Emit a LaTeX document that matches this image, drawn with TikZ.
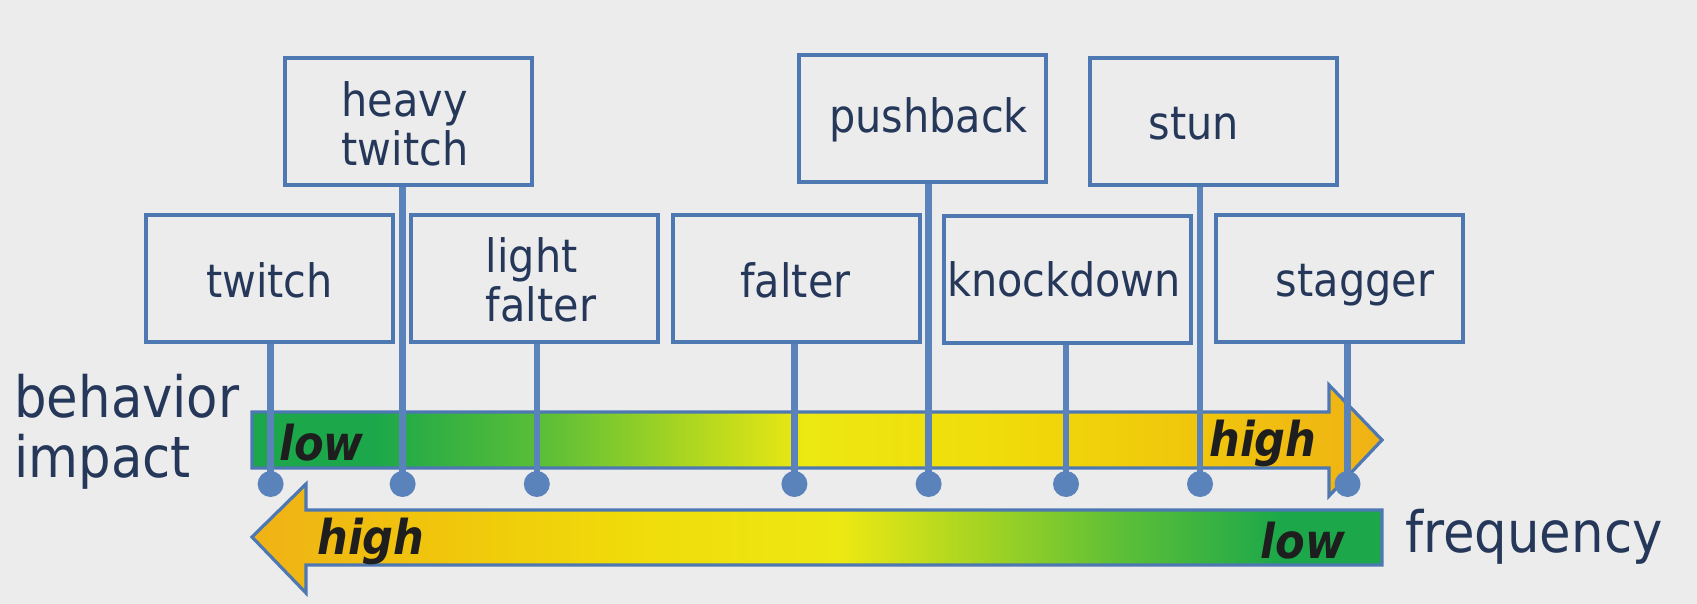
\documentclass[tikz,border=0pt]{standalone}
\usepackage{fontspec}
\setmainfont{DejaVu Sans Condensed}
\definecolor{bg}{HTML}{ECECEC}
\definecolor{boxline}{HTML}{4D78B2}
\definecolor{stemc}{HTML}{5A82BB}
\definecolor{txt}{HTML}{26385A}
\definecolor{g1}{HTML}{1CA84A}
\definecolor{g2}{HTML}{5CBF37}
\definecolor{g3}{HTML}{A8D522}
\definecolor{y1}{HTML}{EDE812}
\definecolor{y2}{HTML}{F0DC0A}
\definecolor{o1}{HTML}{F0C50C}
\definecolor{o2}{HTML}{F0B216}
\definecolor{lbl}{HTML}{1E1E1E}
\pgfdeclarehorizontalshading{impactshade}{100bp}{color(0bp)=(g1); color(25bp)=(g1); color(30.5bp)=(g1); color(38bp)=(g2); color(44bp)=(g3); color(49.5bp)=(y1); color(58bp)=(y2); color(67bp)=(o1); color(75bp)=(o2); color(100bp)=(o2)}
\pgfdeclarehorizontalshading{freqshade}{100bp}{color(0bp)=(o2); color(25bp)=(o2); color(33bp)=(o1); color(42bp)=(y2); color(51bp)=(y1); color(57bp)=(g3); color(63.5bp)=(g2); color(70.5bp)=(g1); color(75bp)=(g1); color(100bp)=(g1)}
\begin{document}
\begin{tikzpicture}[x=0.5pt,y=-0.5pt,
  box/.style={draw=boxline, line width=2pt, minimum width=123.5pt, minimum height=63.5pt, inner sep=0pt},
  btxt/.style={text=txt, font=\fontsize{23}{24.5}\selectfont, align=left, inner sep=0pt},
  stem/.style={draw=stemc, line width=3.2pt},
  dot/.style={circle, fill=stemc, minimum size=13pt, inner sep=0pt},
  lvl/.style={text=lbl, font=\fontsize{24}{24}\selectfont\bfseries\itshape, inner sep=0pt},
  axislabel/.style={text=txt, font=\fontsize{28.5}{30}\selectfont, align=left, inner sep=0pt},
  arrowshape/.style={draw=boxline, line width=1.6pt}]
\fill[bg] (0,0) rectangle (1697,604);
\useasboundingbox (0,0) rectangle (1697,604);
% arrows
\path[arrowshape, shading=impactshade] (252,412) -- (1329,412) -- (1329,385) -- (1382,440) -- (1329,496) -- (1329,468) -- (252,468) -- cycle;
\path[arrowshape, shading=freqshade] (1382,510) -- (306,510) -- (306,484) -- (252,537) -- (306,593) -- (306,565) -- (1382,565) -- cycle;
\node[lvl] (ilow) at (321.5,443) {low};
\node[lvl] (ihigh) at (1263,443) {high};
\node[lvl] (fhigh) at (371,541) {high};
\node[lvl] (flow) at (1303,541) {low};
% axis labels
\node[axislabel, anchor=west] (impact) at (14,432) {behavior\\impact};
\node[axislabel, anchor=west] (freq) at (1405,537) {frequency};
% boxes
\node[box] (twitch) at (269.5,278.5) {};
\node[box] (heavy) at (408,121.5) {};
\node[box] (light) at (534,278.5) {};
\node[box] (falter) at (796,278.5) {};
\node[box] (push) at (922.5,118.5) {};
\node[box] (knock) at (1067,279.5) {};
\node[box] (stun) at (1213.5,121.5) {};
\node[box] (stagger) at (1339.5,278.5) {};
% texts
\node[btxt] (ttwitch) at (269.5,280) {twitch};
\node[btxt] (theavy) at (405,124) {heavy\\twitch};
\node[btxt] (tlight) at (541,280) {light\\falter};
\node[btxt] (tfalter) at (795.5,280) {falter};
\node[btxt] (tpush) at (928.6,120) {pushback};
\node[btxt] (tstun) at (1194,124) {stun};
\node[btxt] (tknock) at (1064,279) {knockdown};
\node[btxt] (tstagger) at (1355,285) {stagger};
% dots
\coordinate (d1) at (270.6,484);
\coordinate (d2) at (402.6,484);
\coordinate (d3) at (536.8,484);
\coordinate (d4) at (794.4,484);
\coordinate (d5) at (928.6,484);
\coordinate (d6) at (1066,484);
\coordinate (d7) at (1200,484);
\coordinate (d8) at (1347.5,484);
\draw[stem] (d1) -- (d1 |- twitch.south);
\draw[stem] (d2) -- (d2 |- heavy.south);
\draw[stem] (d3) -- (d3 |- light.south);
\draw[stem] (d4) -- (d4 |- falter.south);
\draw[stem] (d5) -- (d5 |- push.south);
\draw[stem] (d6) -- (d6 |- knock.south);
\draw[stem] (d7) -- (d7 |- stun.south);
\draw[stem] (d8) -- (d8 |- stagger.south);
\foreach \i in {1,...,8} \node[dot] (dot\i) at (d\i) {};
\end{tikzpicture}
\end{document}
